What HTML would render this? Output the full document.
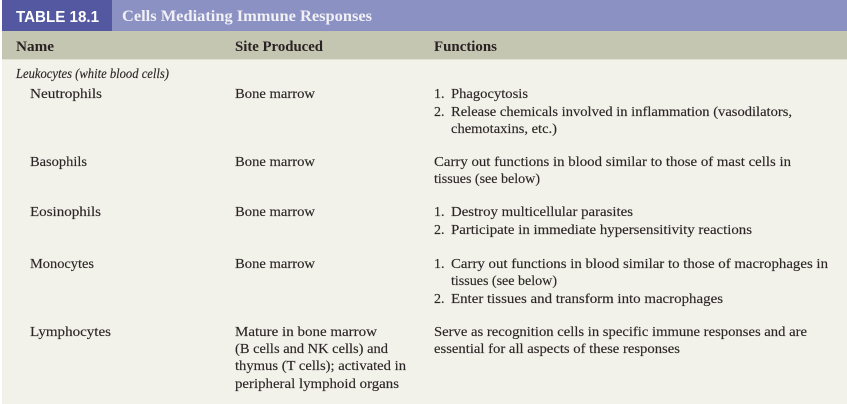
<!DOCTYPE html>
<html>
<head>
<meta charset="utf-8">
<style>
html,body{margin:0;padding:0;background:#fff;width:847px;height:404px;overflow:hidden}
svg{display:block}
text{font-family:"Liberation Serif",serif;font-size:14px;fill:#2c2526;stroke:#2c2526;stroke-width:.15px}
.b{font-weight:bold;font-size:14.5px;fill:#2a2224;stroke:none}
.i{font-style:italic;font-size:13.5px}
.t{font-weight:bold;font-size:15.5px;fill:#f1f0f5;stroke:none}
.h{font-family:"Liberation Sans",sans-serif;font-weight:bold;font-size:16px;fill:#fff;stroke:none}
</style>
</head>
<body>
<svg width="847" height="404" viewBox="0 0 847 404" xmlns="http://www.w3.org/2000/svg">
<rect x="2" y="0" width="845" height="404" fill="#f3f2ea"/>
<rect x="2" y="0" width="845" height="31" fill="#8b91c3"/>
<rect x="2" y="0" width="110" height="31" fill="#5358a0"/>
<rect x="2" y="31" width="845" height="28" fill="#c5c6b1"/>
<rect x="2" y="59" width="845" height="1" fill="#e2e2d4"/>

<text class="h" x="16" y="22" textLength="83" lengthAdjust="spacingAndGlyphs">TABLE 18.1</text>
<text class="t" x="122" y="21" textLength="250" lengthAdjust="spacingAndGlyphs">Cells Mediating Immune Responses</text>

<text class="b" x="16" y="51" textLength="38" lengthAdjust="spacingAndGlyphs">Name</text>
<text class="b" x="235" y="51" textLength="88" lengthAdjust="spacingAndGlyphs">Site Produced</text>
<text class="b" x="434" y="51" textLength="63" lengthAdjust="spacingAndGlyphs">Functions</text>

<text class="i" x="16" y="78" textLength="153" lengthAdjust="spacingAndGlyphs">Leukocytes (white blood cells)</text>

<text x="30" y="98" textLength="72" lengthAdjust="spacingAndGlyphs">Neutrophils</text>
<text x="235" y="98" textLength="80" lengthAdjust="spacingAndGlyphs">Bone marrow</text>
<text x="434" y="98">1.</text>
<text x="451" y="98" textLength="77" lengthAdjust="spacingAndGlyphs">Phagocytosis</text>
<text x="434" y="116">2.</text>
<text x="451" y="116" textLength="341" lengthAdjust="spacingAndGlyphs">Release chemicals involved in inflammation (vasodilators,</text>
<text x="451" y="133" textLength="106" lengthAdjust="spacingAndGlyphs">chemotaxins, etc.)</text>

<text x="30" y="166" textLength="57" lengthAdjust="spacingAndGlyphs">Basophils</text>
<text x="235" y="166" textLength="80" lengthAdjust="spacingAndGlyphs">Bone marrow</text>
<text x="434" y="166" textLength="357" lengthAdjust="spacingAndGlyphs">Carry out functions in blood similar to those of mast cells in</text>
<text x="434" y="183" textLength="106" lengthAdjust="spacingAndGlyphs">tissues (see below)</text>

<text x="30" y="216" textLength="71" lengthAdjust="spacingAndGlyphs">Eosinophils</text>
<text x="235" y="216" textLength="80" lengthAdjust="spacingAndGlyphs">Bone marrow</text>
<text x="434" y="216">1.</text>
<text x="451" y="216" textLength="182" lengthAdjust="spacingAndGlyphs">Destroy multicellular parasites</text>
<text x="434" y="234">2.</text>
<text x="451" y="234" textLength="301" lengthAdjust="spacingAndGlyphs">Participate in immediate hypersensitivity reactions</text>

<text x="30" y="268" textLength="64" lengthAdjust="spacingAndGlyphs">Monocytes</text>
<text x="235" y="268" textLength="80" lengthAdjust="spacingAndGlyphs">Bone marrow</text>
<text x="434" y="268">1.</text>
<text x="451" y="268" textLength="377" lengthAdjust="spacingAndGlyphs">Carry out functions in blood similar to those of macrophages in</text>
<text x="451" y="285" textLength="106" lengthAdjust="spacingAndGlyphs">tissues (see below)</text>
<text x="434" y="303">2.</text>
<text x="451" y="303" textLength="272" lengthAdjust="spacingAndGlyphs">Enter tissues and transform into macrophages</text>

<text x="30" y="336" textLength="81" lengthAdjust="spacingAndGlyphs">Lymphocytes</text>
<text x="235" y="336" textLength="142" lengthAdjust="spacingAndGlyphs">Mature in bone marrow</text>
<text x="235" y="353" textLength="153" lengthAdjust="spacingAndGlyphs">(B cells and NK cells) and</text>
<text x="235" y="370" textLength="171" lengthAdjust="spacingAndGlyphs">thymus (T cells); activated in</text>
<text x="235" y="388" textLength="164" lengthAdjust="spacingAndGlyphs">peripheral lymphoid organs</text>
<text x="434" y="336" textLength="373" lengthAdjust="spacingAndGlyphs">Serve as recognition cells in specific immune responses and are</text>
<text x="434" y="353" textLength="246" lengthAdjust="spacingAndGlyphs">essential for all aspects of these responses</text>
</svg>
</body>
</html>
